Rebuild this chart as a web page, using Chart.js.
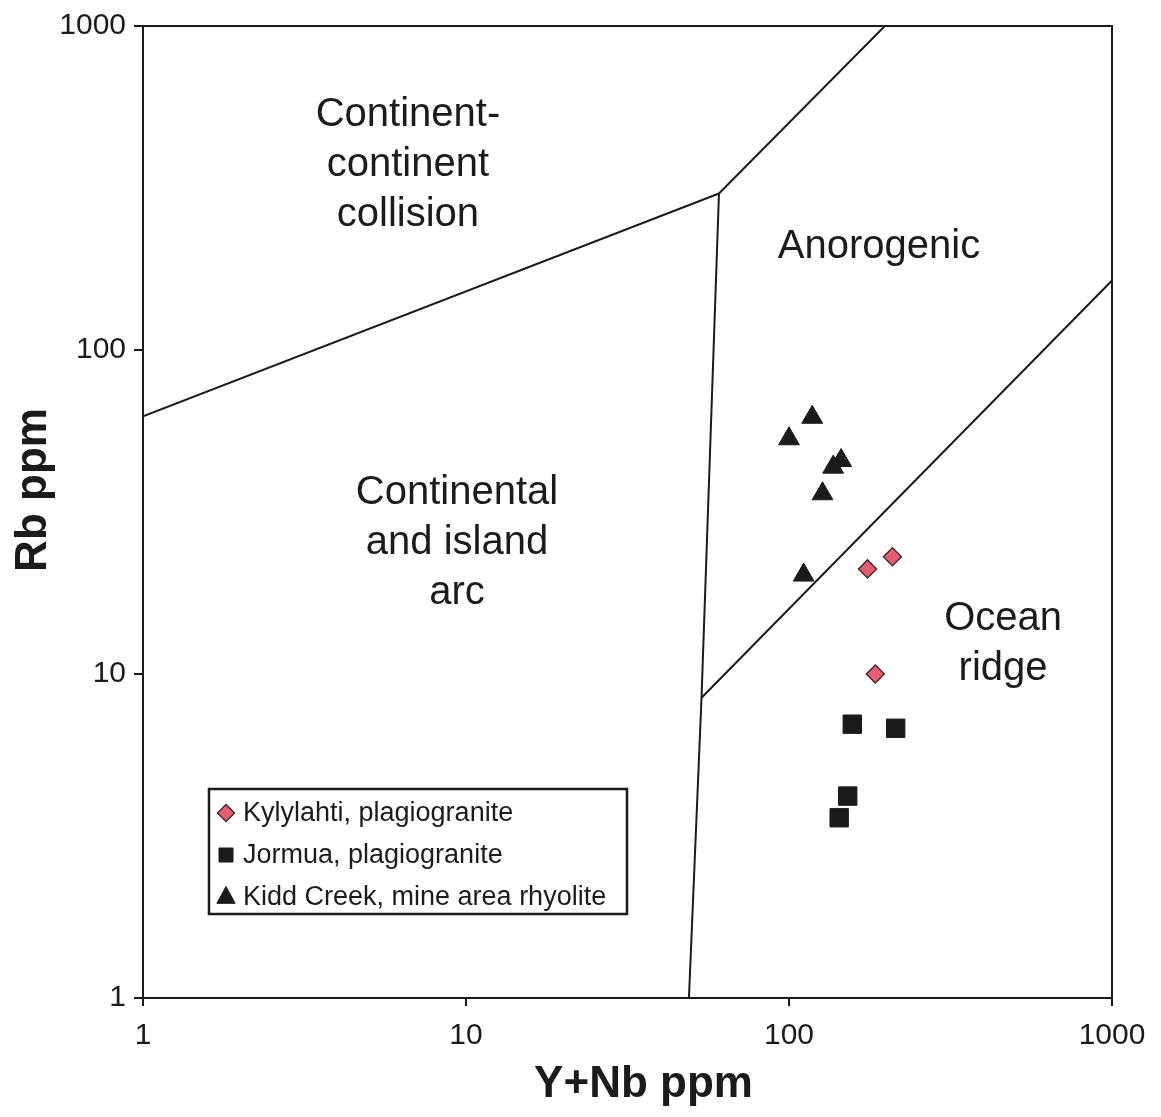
<!DOCTYPE html>
<html>
<head>
<meta charset="utf-8">
<script src="https://cdn.jsdelivr.net/npm/chart.js@4.4.1/dist/chart.umd.min.js"></script>
<style>
  html, body { margin: 0; padding: 0; background: #ffffff; }
  #wrap { position: relative; width: 1161px; height: 1117px; }
</style>
</head>
<body>
<div id="wrap"><canvas id="c"></canvas></div>
<script>
// ---- data ----
const xTickValues = [1, 10, 100, 1000];
const yTickValues = [1, 10, 100, 1000];

const kylylahti = [
  { x: 175, y: 21.1 },
  { x: 209, y: 23.0 },
  { x: 185, y: 10.0 }
];
const jormua = [
  { x: 157, y: 7.0 },
  { x: 214, y: 6.8 },
  { x: 152, y: 4.2 },
  { x: 143, y: 3.6 }
];
const kiddCreek = [
  { x: 118, y: 62.0 },
  { x: 100, y: 53.2 },
  { x: 145, y: 45.6 },
  { x: 137, y: 43.5 },
  { x: 127, y: 36.0 },
  { x: 111, y: 20.2 }
];

// field boundaries
const lineCollisionArc = [ { x: 1, y: 62.4 }, { x: 60.7, y: 304 } ];
const lineCollisionWithinPlate = [ { x: 60.7, y: 304 }, { x: 198, y: 1000 } ];
const lineArcWithinPlate = [ { x: 60.7, y: 304 }, { x: 53.6, y: 8.45 }, { x: 49, y: 1 } ];
const lineOceanRidge = [ { x: 53.6, y: 8.45 }, { x: 1000, y: 163.8 } ];

const seriesNames = ['Kylylahti, plagiogranite', 'Jormua, plagiogranite', 'Kidd Creek, mine area rhyolite'];
const xTitle = 'Y+Nb ppm';
const yTitle = 'Rb ppm';

const fieldLabels = [
  { lines: ['Continent-', 'continent', 'collision'], x: 6.61, y: 373 },
  { lines: ['Anorogenic'], x: 190, y: 208 },
  { lines: ['Continental', 'and island', 'arc'], x: 9.38, y: 25.4 },
  { lines: ['Ocean', 'ridge'], x: 460, y: 12.4 }
];

// ---- styles ----
const INK = '#1b1b1b';
const PINK = '#e45f72';
const FONT = "'Liberation Sans', Arial, sans-serif";

function boundary(data) {
  return {
    type: 'line', data: data, showLine: true, fill: false,
    borderColor: INK, borderWidth: 2, pointRadius: 0, tension: 0,
    isBoundary: true
  };
}

const fieldLabelPlugin = {
  id: 'fieldLabels',
  afterDatasetsDraw(chart) {
    const ctx = chart.ctx;
    const xs = chart.scales.x, ys = chart.scales.y;
    ctx.save();
    ctx.fillStyle = INK;
    ctx.font = '40px ' + FONT;
    ctx.textAlign = 'center';
    ctx.textBaseline = 'middle';
    const lh = 50;
    fieldLabels.forEach(l => {
      const cx = xs.getPixelForValue(l.x);
      const cy = ys.getPixelForValue(l.y);
      const n = l.lines.length;
      l.lines.forEach((t, i) => {
        ctx.fillText(t, cx, cy + (i - (n - 1) / 2) * lh);
      });
    });
    ctx.restore();
  }
};

const axisTitlePlugin = {
  id: 'axisTitles',
  afterDraw(chart) {
    const ctx = chart.ctx;
    const a = chart.chartArea;
    ctx.save();
    ctx.fillStyle = INK;
    ctx.font = 'bold 44px ' + FONT;
    ctx.textAlign = 'center';
    ctx.textBaseline = 'middle';
    ctx.fillText(xTitle, (a.left + a.right) / 2 + 16, a.bottom + 87);
    ctx.translate(34, (a.top + a.bottom) / 2 - 22);
    ctx.rotate(-Math.PI / 2);
    ctx.fillText(yTitle, 0, 0);
    ctx.restore();
  }
};

const legendPlugin = {
  id: 'boxLegend',
  afterDatasetsDraw(chart) {
    const ctx = chart.ctx;
    const a = chart.chartArea;
    const bx = a.left + 66, by = a.top + 763, bw = 418, bh = 125;
    ctx.save();
    ctx.fillStyle = '#ffffff';
    ctx.fillRect(bx, by, bw, bh);
    ctx.strokeStyle = INK;
    ctx.lineWidth = 2.5;
    ctx.strokeRect(bx, by, bw, bh);
    const items = chart.data.datasets.filter(d => !d.isBoundary);
    items.forEach((d, i) => {
      const cy = by + 24 + i * 42;
      const mx = bx + 17;
      ctx.fillStyle = d.backgroundColor;
      ctx.strokeStyle = d.borderColor;
      ctx.lineWidth = d.borderWidth;
      ctx.beginPath();
      if (d.pointStyle === 'rectRot') {
        const r = 8.5;
        ctx.moveTo(mx, cy - r); ctx.lineTo(mx + r, cy); ctx.lineTo(mx, cy + r); ctx.lineTo(mx - r, cy);
      } else if (d.pointStyle === 'rect') {
        const s = 7;
        ctx.rect(mx - s, cy - s, 2 * s, 2 * s);
      } else {
        const r = 10.5;
        ctx.moveTo(mx, cy - r); ctx.lineTo(mx + r * 0.87, cy + r * 0.6); ctx.lineTo(mx - r * 0.87, cy + r * 0.6);
      }
      ctx.closePath();
      ctx.fill();
      ctx.stroke();
      ctx.fillStyle = INK;
      ctx.font = '27px ' + FONT;
      ctx.textAlign = 'left';
      ctx.textBaseline = 'middle';
      ctx.fillText(d.label, bx + 34, cy + 1);
    });
    ctx.restore();
  }
};

new Chart(document.getElementById('c'), {
  type: 'scatter',
  data: {
    datasets: [
      boundary(lineCollisionArc),
      boundary(lineCollisionWithinPlate),
      boundary(lineArcWithinPlate),
      boundary(lineOceanRidge),
      {
        label: seriesNames[0], data: kylylahti, pointStyle: 'rectRot',
        pointRadius: 9, backgroundColor: PINK, borderColor: '#4a2b2e', borderWidth: 1.5
      },
      {
        label: seriesNames[1], data: jormua, pointStyle: 'rect',
        pointRadius: 13, backgroundColor: INK, borderColor: INK, borderWidth: 1
      },
      {
        label: seriesNames[2], data: kiddCreek, pointStyle: 'triangle',
        pointRadius: 12, backgroundColor: INK, borderColor: INK, borderWidth: 1
      }
    ]
  },
  options: {
    responsive: true,
    maintainAspectRatio: false,
    animation: false,
    events: [],
    layout: { padding: { top: 24, right: 49, left: 0, bottom: 0 } },
    plugins: { legend: { display: false }, tooltip: { enabled: false } },
    scales: {
      x: {
        type: 'logarithmic', min: 1, max: 1000, position: 'bottom',
        afterBuildTicks: s => { s.ticks = xTickValues.map(v => ({ value: v, major: true })); },
        afterFit: s => { s.height = 119; },
        ticks: {
          color: INK, font: { family: FONT, size: 30 }, padding: 12,
          autoSkip: false, maxRotation: 0,
          callback: v => String(v)
        },
        grid: { drawOnChartArea: false, drawTicks: true, tickLength: 8, color: INK, lineWidth: 2 },
        border: { display: true, color: INK, width: 2 },
        title: { display: false, text: xTitle }
      },
      y: {
        type: 'logarithmic', min: 1, max: 1000, position: 'left',
        afterBuildTicks: s => { s.ticks = yTickValues.map(v => ({ value: v, major: true })); },
        afterFit: s => { s.width = 143; },
        ticks: {
          color: INK, font: { family: FONT, size: 30 }, padding: 8,
          autoSkip: false,
          callback: v => String(v)
        },
        grid: { drawOnChartArea: false, drawTicks: true, tickLength: 9, color: INK, lineWidth: 2 },
        border: { display: true, color: INK, width: 2 },
        title: { display: false, text: yTitle }
      },
      x2: {
        type: 'logarithmic', min: 1, max: 1000, position: 'top', display: true,
        ticks: { display: false }, grid: { display: false, drawTicks: false },
        border: { display: true, color: INK, width: 2 },
        afterFit: s => { s.height = 0; }
      },
      y2: {
        type: 'logarithmic', min: 1, max: 1000, position: 'right', display: true,
        ticks: { display: false }, grid: { display: false, drawTicks: false },
        border: { display: true, color: INK, width: 2 },
        afterFit: s => { s.width = 0; }
      }
    }
  },
  plugins: [fieldLabelPlugin, legendPlugin, axisTitlePlugin]
});
</script>
</body>
</html>
